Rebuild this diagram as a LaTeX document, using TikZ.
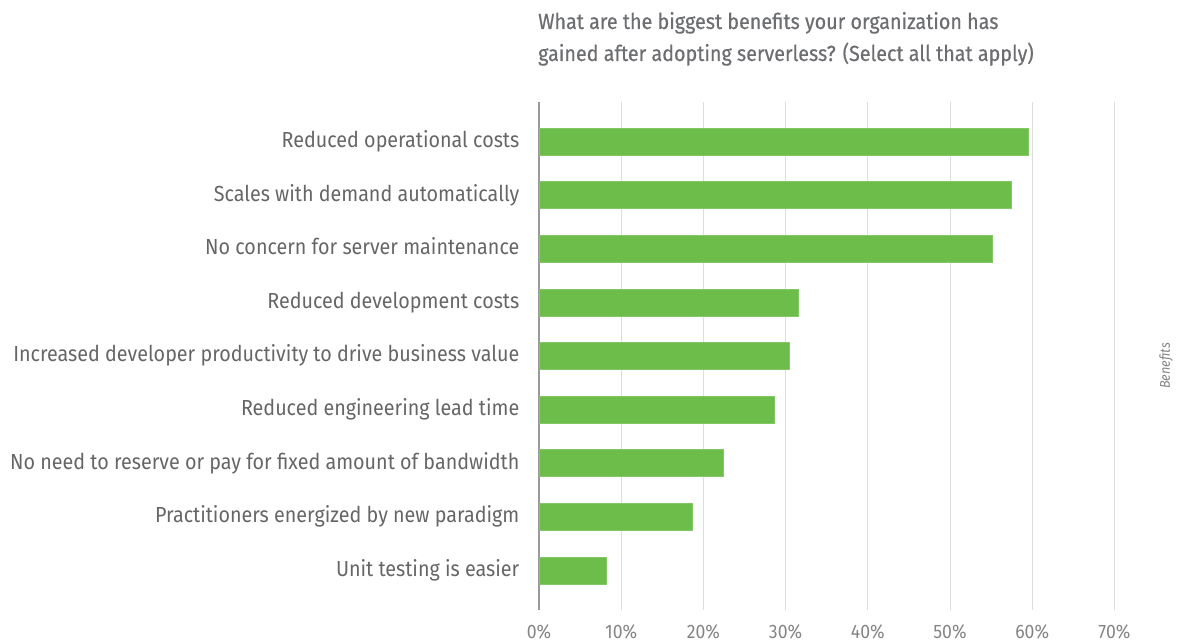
\documentclass[tikz,border=0pt]{standalone}
\usepackage{fontspec}
\setmainfont{Fira Sans}[FakeStretch=0.905]
\definecolor{barg}{HTML}{6DBD4B}
\definecolor{txt}{HTML}{666666}
\definecolor{ttl}{HTML}{6D6E71}
\definecolor{grid}{HTML}{DDDDDD}
\definecolor{axis}{HTML}{999999}
\begin{document}
\begin{tikzpicture}[x=1pt,y=-1pt,
  lab/.style={anchor=base east,inner sep=0pt,text=txt,font=\fontsize{21.8}{26}\selectfont},
  tick/.style={anchor=base,inner sep=0pt,text=txt!80,font=\fontsize{19.5}{22}\selectfont},
  bar/.style={fill=barg,draw=barg!85!white,line width=0.6pt},
  ttlst/.style={anchor=base west,inner sep=0pt,text=ttl,font=\fontsize{21.8}{26}\selectfont\addfontfeature{FakeBold=0.5}}]
\useasboundingbox (0,0) rectangle (1177,644);
% grid
\foreach \k in {1,...,7} {
  \draw[grid,line width=1pt] ({539+82.2*\k},102) -- ({539+82.2*\k},610);
  \node[tick] (t\k) at ({539+82.2*\k},638) {\k0\%};
}
\node[tick] (t0) at (539,638) {0\%};
\draw[axis,line width=1.2pt] (539,102) -- (539,610);
% title
\node[ttlst] (title1) at (538,29) {What are the biggest benefits your organization has};
\node[ttlst] (title2) at (538,61) {gained after adopting serverless? (Select all that apply)};
% bars
\foreach \i/\v/\t in {
 0/59.5/Reduced operational costs,
 1/57.4/Scales with demand automatically,
 2/55.1/No concern for server maintenance,
 3/31.6/Reduced development costs,
 4/30.5/Increased developer productivity to drive business value,
 5/28.6/Reduced engineering lead time,
 6/22.4/No need to reserve or pay for fixed amount of bandwidth,
 7/18.6/Practitioners energized by new paradigm,
 8/8.2/Unit testing is easier} {
  \draw[bar] (539,{128+53.6*\i}) rectangle ({539+8.22*\v},{155+53.6*\i});
  \node[lab] (l\i) at (519.5,{141.5+53.6*\i+6}) {\t};
}
\node[rotate=90,inner sep=0pt,text=txt!80,font=\fontsize{14}{16}\selectfont\itshape] (ben) at (1166,366) {Benefits};
\end{tikzpicture}
\end{document}
